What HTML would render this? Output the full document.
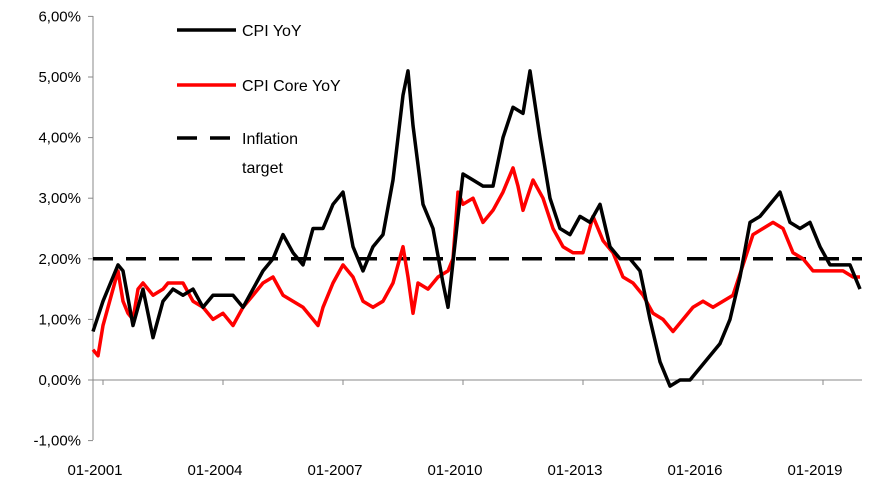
<!DOCTYPE html>
<html><head><meta charset="utf-8"><style>
body{margin:0;background:#fff;width:869px;height:488px;overflow:hidden}
svg{display:block;font-family:"Liberation Sans",sans-serif}
</style></head><body>
<svg id="chart" width="869" height="488"></svg>
<script>
const yTicks=[6,5,4,3,2,1,0,-1];
const xTickYears=[2001,2004,2007,2010,2013,2016,2019];
const cpiX=[93,103,113,118,123,133,143,153,163,173,183,193,203,213,223,233,243,253,263,273,283,293,303,313,323,333,343,353,363,373,383,393,403,408,413,423,433,443,448,458,463,473,483,493,503,513,523,530,540,550,560,570,580,590,600,610,620,630,640,650,660,670,680,690,700,710,720,730,740,750,760,770,780,790,800,810,820,830,840,850,860];
const cpiVals=[0.8,1.3,1.7,1.9,1.8,0.9,1.5,0.7,1.3,1.5,1.4,1.5,1.2,1.4,1.4,1.4,1.2,1.5,1.8,2.0,2.4,2.1,1.9,2.5,2.5,2.9,3.1,2.2,1.8,2.2,2.4,3.3,4.7,5.1,4.2,2.9,2.5,1.6,1.2,2.7,3.4,3.3,3.2,3.2,4.0,4.5,4.4,5.1,4.0,3.0,2.5,2.4,2.7,2.6,2.9,2.2,2.0,2.0,1.8,1.0,0.3,-0.1,0.0,0.0,0.2,0.4,0.6,1.0,1.7,2.6,2.7,2.9,3.1,2.6,2.5,2.6,2.2,1.9,1.9,1.9,1.5];
const coreX=[93,98,103,113,118,123,128,133,138,143,153,163,168,173,183,193,203,213,223,233,243,253,263,273,283,293,303,313,318,323,333,343,353,363,373,383,393,403,408,413,418,428,438,448,453,458,463,473,483,493,503,513,518,523,533,543,553,563,573,583,593,603,613,623,633,643,653,663,673,683,693,703,713,723,733,743,753,763,773,783,793,803,813,823,833,843,853,860];
const coreVals=[0.5,0.4,0.9,1.5,1.8,1.3,1.1,1.0,1.5,1.6,1.4,1.5,1.6,1.6,1.6,1.3,1.2,1.0,1.1,0.9,1.2,1.4,1.6,1.7,1.4,1.3,1.2,1.0,0.9,1.2,1.6,1.9,1.7,1.3,1.2,1.3,1.6,2.2,1.7,1.1,1.6,1.5,1.7,1.8,2.0,3.1,2.9,3.0,2.6,2.8,3.1,3.5,3.2,2.8,3.3,3.0,2.5,2.2,2.1,2.1,2.7,2.3,2.1,1.7,1.6,1.4,1.1,1.0,0.8,1.0,1.2,1.3,1.2,1.3,1.4,1.9,2.4,2.5,2.6,2.5,2.1,2.0,1.8,1.8,1.8,1.8,1.7,1.7];
const target=[2];
// convert pixel-estimated x to decimal years
const cpiYears=cpiX.map(x=>2001+(x-93)/40);
const coreYears=coreX.map(x=>2001+(x-93)/40);
const yS=v=>380-v*60.6;
const xS=t=>93+(t-2001)*40;
const NS='http://www.w3.org/2000/svg';
const svg=document.getElementById('chart');
function mk(tag,attrs,parent){const e=document.createElementNS(NS,tag);for(const k in attrs)e.setAttribute(k,attrs[k]);(parent||svg).appendChild(e);return e;}
// y axis
let ax=mk('line',{x1:93,y1:16,x2:93,y2:440,stroke:'#888','stroke-width':1});


yTicks.forEach(v=>{
 const t=mk('line',{x1:88,y1:yS(v),x2:93,y2:yS(v),stroke:'#888'});
 
 
 const l=mk('text',{x:81,y:yS(v)+5,'text-anchor':'end','font-size':15,fill:'#000'});
 l.textContent=v.toFixed(2).replace('.',',')+'%';
 
 
});
let xa=mk('line',{x1:93,y1:380,x2:862,y2:380,stroke:'#888'});


xTickYears.forEach(y=>{
 const t=mk('line',{x1:xS(y)+10,y1:380,x2:xS(y)+10,y2:385,stroke:'#888'});
 
 
 const l=mk('text',{x:xS(y)+2,y:475,'text-anchor':'middle','font-size':15,fill:'#000'});
 l.textContent='01-'+y;
 
 
});
let tl=mk('line',{x1:93,y1:yS(target[0]),x2:862,y2:yS(target[0]),stroke:'#000','stroke-width':3.5,'stroke-dasharray':'20,13'});


function series(xs,vs,color,name){
 const p=mk('polyline',{points:xs.map((t,i)=>xS(t).toFixed(1)+','+yS(vs[i]).toFixed(1)).join(' '),fill:'none',stroke:color,'stroke-width':3.5,'stroke-linejoin':'round'});
 
 
}
series(coreYears,coreVals,'#ff0000','cpi-core-yoy-line');
series(cpiYears,cpiVals,'#000','cpi-yoy-line');
// legend
const lg=[[30,'#000','none','CPI YoY'],[85,'#ff0000','none','CPI Core YoY'],[138,'#000','20,13','Inflation']];
lg.forEach(([y,c,d,txt])=>{
 const g=mk('g',{});
 
 
 mk('line',{x1:177,y1:y,x2:236,y2:y,stroke:c,'stroke-width':3.5,'stroke-dasharray':d},g);
 const t=mk('text',{x:242,y:y+6,'font-size':16,fill:'#000'},g);t.textContent=txt;
});
const t2=mk('text',{x:242,y:173,'font-size':16,fill:'#000'});t2.textContent='target';


</script>
</body></html>
